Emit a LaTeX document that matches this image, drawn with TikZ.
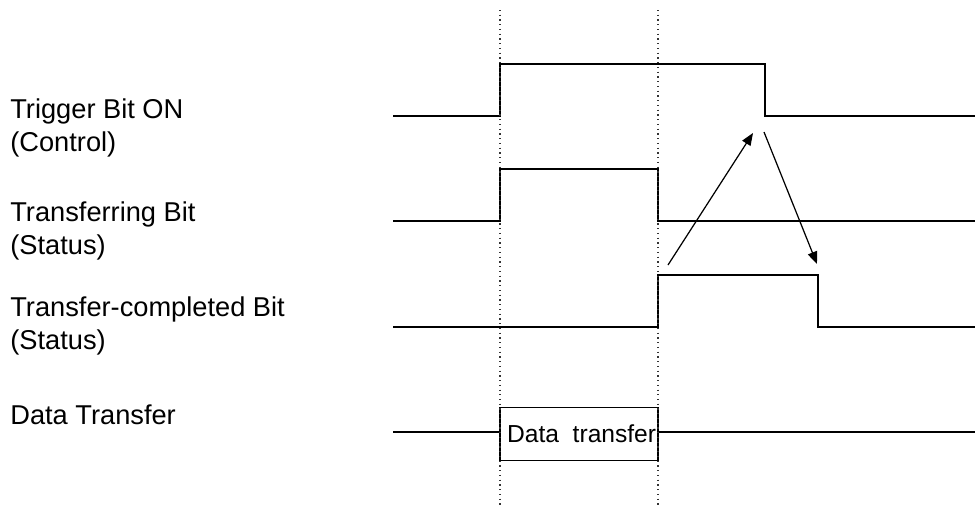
\documentclass[tikz,border=0pt]{standalone}
\usepackage{fontspec}
\setmainfont{Liberation Sans}
\usetikzlibrary{arrows.meta, positioning}

\begin{document}
\begin{tikzpicture}[
    x=0.02cm, y=-0.02cm,
    font=\fontsize{15.5}{18.5}\selectfont,
    >={Triangle[length=7pt,width=5.5pt]},
    signame/.style={anchor=west, align=left, inner sep=0pt},
    wave/.style={line width=0.8pt},
    guide/.style={dotted, line width=0.7pt, black!80},
    xferbox/.style={draw, line width=0.8pt, fill=white, minimum width=3.16cm, minimum height=1.06cm, inner sep=0pt, font=\fontsize{14}{16}\selectfont},
    arrow/.style={->, line width=0.7pt},
]
    \useasboundingbox (0,0) rectangle (975,508);

    % Signal names
    \node[signame] (trig_lbl) at (10,128) {Trigger Bit ON\\(Control)};
    \node[signame] (busy_lbl) at (10,231) {Transferring Bit\\(Status)};
    \node[signame] (done_lbl) at (10,326) {Transfer-completed Bit\\(Status)};
    \node[signame] (data_lbl) at (10,415) {Data Transfer};

    % Waveforms
    \draw[wave] (393,116) -- (500,116) -- (500,64) -- (765,64) -- (765,116) -- (975,116);
    \draw[wave] (393,221) -- (500,221) -- (500,169) -- (658,169) -- (658,221) -- (975,221);
    \draw[wave] (393,327) -- (658,327) -- (658,275) -- (818,275) -- (818,327) -- (975,327);

    \node[xferbox] (xfer) at (579,434) {\hspace{3pt}Data~~transfer};
    \draw[wave] (393,432) -- (xfer.west |- 0,432);
    \draw[wave] (xfer.east |- 0,432) -- (975,432);

    % Timing guides
    \draw[guide] (500,10) -- (500,505);
    \draw[guide] (658,10) -- (658,505);

    % Handshake
    \coordinate (done_up) at (668,265);
    \coordinate (trig_dn) at (753,133);
    \coordinate (trig_off) at (764,132);
    \coordinate (done_dn) at (817,264);
    \draw[arrow] (done_up) -- (trig_dn);
    \draw[arrow] (trig_off) -- (done_dn);
\end{tikzpicture}
\end{document}
